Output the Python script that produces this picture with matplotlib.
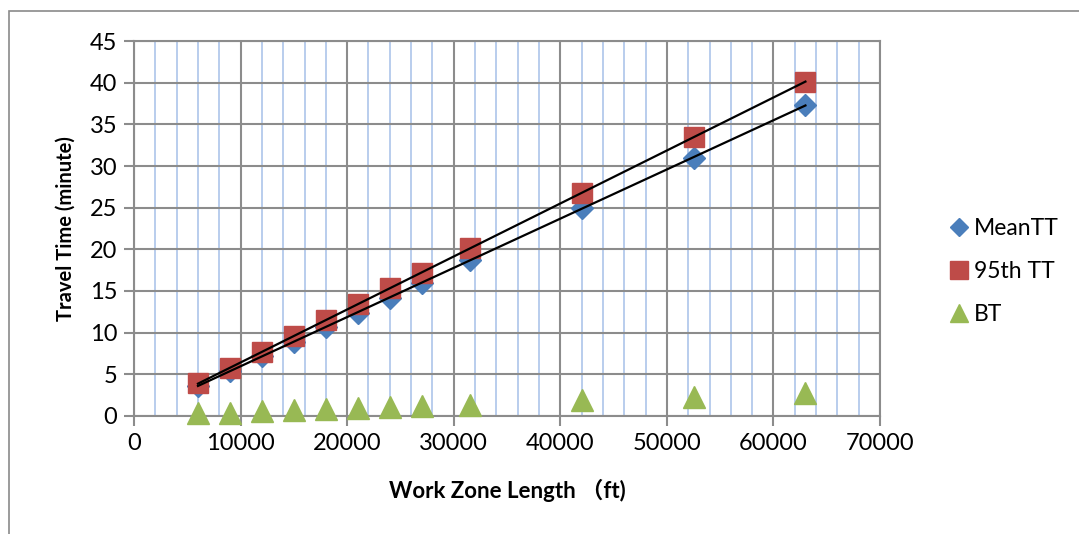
import numpy as np
import matplotlib.pyplot as plt
from matplotlib.patches import Rectangle
from matplotlib.ticker import MultipleLocator

plt.rcParams['font.family'] = ['Lato', 'Noto Sans CJK SC', 'DejaVu Sans']

# data
length_ft = [6000, 9000, 12000, 15000, 18000, 21000, 24000, 27000, 31500, 42000, 52500, 63000]
mean_tt = [3.6, 5.4, 7.2, 8.9, 10.7, 12.4, 14.2, 16.0, 18.7, 24.9, 31.0, 37.3]
tt_95th = [3.9, 5.8, 7.7, 9.6, 11.5, 13.4, 15.3, 17.2, 20.1, 26.8, 33.5, 40.1]
bt = [0.3, 0.4, 0.6, 0.7, 0.8, 1.0, 1.1, 1.2, 1.3, 1.9, 2.3, 2.8]

fig = plt.figure(figsize=(10.79, 5.34), dpi=100)
ax = fig.add_axes([0.1242, 0.221, 0.6914, 0.7022])

# outer chart border
fig.patches.append(Rectangle((0.0085, -0.01), 1.1, 0.99, transform=fig.transFigure,
                             fill=False, edgecolor='#8a8a8a', linewidth=1.2))

ax.plot(length_ft, mean_tt, 'D', color='#4a7ebb', markersize=11, label='MeanTT', zorder=4, clip_on=False)
ax.plot(length_ft, tt_95th, 's', color='#be4b48', markersize=15, label='95th TT', zorder=4, clip_on=False)
ax.plot(length_ft, bt, '^', color='#98b954', markersize=16, label='BT', zorder=4, clip_on=False)

# linear trendlines
x = np.array(length_ft)
for series in (mean_tt, tt_95th):
    k, b = np.polyfit(x, series, 1)
    ax.plot([x.min(), x.max()], [k * x.min() + b, k * x.max() + b], color='black', linewidth=1.6, zorder=5)

ax.set_xlim(0, 70000)
ax.set_ylim(0, 45)
ax.xaxis.set_major_locator(MultipleLocator(10000))
ax.xaxis.set_minor_locator(MultipleLocator(2000))
ax.yaxis.set_major_locator(MultipleLocator(5))

ax.grid(which='minor', axis='x', color='#b3c9ec', linewidth=1.3, zorder=0)
ax.grid(which='major', color='#8c8c8c', linewidth=1.5, zorder=1)
ax.set_axisbelow(True)

for s in ax.spines.values():
    s.set_color('#8c8c8c')
    s.set_linewidth(1.5)

ax.tick_params(which='major', direction='out', length=7, width=1.5, color='#8c8c8c', labelsize=17, pad=5)
ax.tick_params(which='minor', length=0)

ax.set_xlabel('Work Zone Length （ft)', fontsize=16, fontweight='bold', labelpad=18)
ax.set_ylabel('Travel Time (minute)', fontsize=14.5, fontweight='bold', labelpad=10)

ax.legend(loc='center left', bbox_to_anchor=(1.06, 0.385), frameon=False, fontsize=16.5,
          handletextpad=0.05, labelspacing=0.95, handlelength=1.2, markerscale=0.85)

plt.savefig('out.png', dpi=100)
